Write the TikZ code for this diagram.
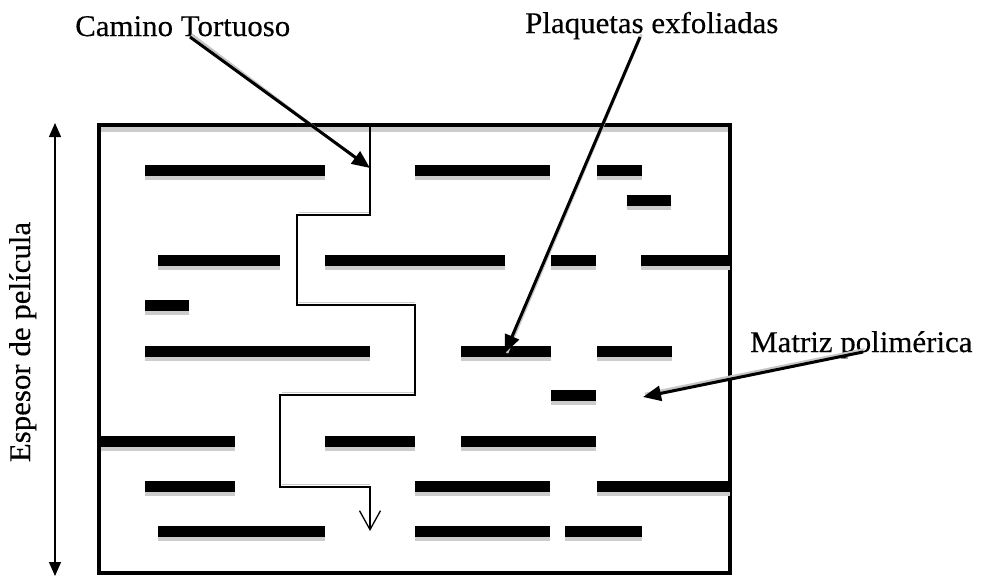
\documentclass[tikz,border=0pt]{standalone}
\usepackage{fontspec}
\setmainfont[FakeStretch=1.03,FakeBold=0.35]{Liberation Serif}
\usetikzlibrary{arrows.meta}

% one clay platelet: black bar with its grey shading underneath
\newcommand\platelet[3]{%
  \fill[gray!40] (#1,#3+8) rectangle (#2,#3+14);
  \fill[black] (#1,#3-1) rectangle (#2,#3+9.5);}

\begin{document}
\begin{tikzpicture}[x=1pt,y=-1pt,
  lbl/.style={font=\fontsize{30}{35}\selectfont, inner sep=0pt},
  callout/.style={line width=3pt, -{Triangle[length=18pt,width=15pt]}},
  calloutshade/.style={draw=gray!45, line width=2.6pt},
  film/.style={line width=4pt},
  route/.style={line width=1.8pt, -{Straight Barb[length=19pt,width=21pt,line width=1.3pt]}},
  routeshade/.style={draw=gray!40, line width=1.6pt},
  thickness/.style={line width=1.3pt,
    {Triangle[length=14pt,width=12pt]}-{Triangle[length=14pt,width=12pt]}}]

\useasboundingbox (0,0) rectangle (982,576);

% labels
\node[lbl, anchor=base west] (tortuoso) at (75,36) {Camino Tortuoso};
\node[lbl, anchor=base west] (plaquetas) at (525,33) {Plaquetas exfoliadas};
\node[lbl, anchor=base west] (matriz) at (750,352) {Matriz polimérica};
\node[lbl, anchor=base, rotate=90] (espesor) at (30,342) {Espesor de película};

% film outline
\fill[gray!40] (101,127) rectangle (729,131.5);
\draw[film] (99,125) rectangle (730,573);

% platelets
\platelet{145}{325}{166}
\platelet{415}{550}{166}
\platelet{597}{642}{166}
\platelet{627}{671}{196}
\platelet{158}{280}{256}
\platelet{325}{505}{256}
\platelet{551}{596}{256}
\platelet{641}{730}{256}
\platelet{145}{189}{301}
\platelet{145}{370}{347}
\platelet{461}{551}{347}
\platelet{597}{672}{347}
\platelet{551}{596}{391}
\platelet{101}{235}{437}
\platelet{325}{415}{437}
\platelet{461}{596}{437}
\platelet{145}{235}{482}
\platelet{415}{550}{482}
\platelet{597}{730}{482}
\platelet{158}{325}{527}
\platelet{415}{550}{527}
\platelet{565}{642}{527}

% tortuous diffusion route
\coordinate (r0) at (370,125);
\coordinate (r1) at (370,215);
\coordinate (r2) at (297,215);
\coordinate (r3) at (297,305);
\coordinate (r4) at (415,305);
\coordinate (r5) at (415,395);
\coordinate (r6) at (280,395);
\coordinate (r7) at (280,487);
\coordinate (r8) at (370,487);
\coordinate (r9) at (370,531);
\draw[routeshade] ([shift={(1.5,-2.5)}]r2) -- ([shift={(0,-2.5)}]r1);
\draw[routeshade] ([shift={(1.5,-2.5)}]r3) -- ([shift={(0,-2.5)}]r4);
\draw[routeshade] ([shift={(1.5,-2.5)}]r6) -- ([shift={(0,-2.5)}]r5);
\draw[routeshade] ([shift={(1.5,-2.5)}]r7) -- ([shift={(0,-2.5)}]r8);
\draw[route] (r0) -- (r1) -- (r2) -- (r3) -- (r4) -- (r5) -- (r6) -- (r7) -- (r8) -- (r9);

% film thickness
\coordinate (topT) at (55,123);
\coordinate (botT) at (55,576);
\draw[thickness] (topT) -- (botT);

% callouts
\coordinate (tortStart) at (190,37);
\coordinate (tortTip) at (370,168);
\coordinate (plaqStart) at (640,37);
\coordinate (plaqTip) at (505,353);
\coordinate (matStart) at (863,352);
\coordinate (matTip) at (643,397);
\draw[calloutshade] ([shift={(1.5,-2.5)}]tortStart) -- ([shift={(-4,-2)}]tortTip);
\draw[calloutshade] ([shift={(1.5,-2.5)}]plaqStart) -- ([shift={(2,-0)}]plaqTip);
\draw[calloutshade] ([shift={(1.5,-2.5)}]matStart) -- ([shift={(2,-3)}]matTip);
\draw[callout] (tortStart) -- (tortTip);
\draw[callout] (plaqStart) -- (plaqTip);
\draw[callout] (matStart) -- (matTip);

\end{tikzpicture}
\end{document}
